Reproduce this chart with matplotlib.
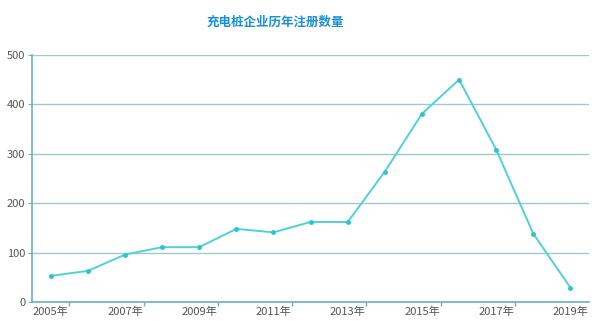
import matplotlib
matplotlib.use("Agg")
import matplotlib.pyplot as plt

plt.rcParams['font.family'] = ['Noto Sans CJK SC', 'DejaVu Sans']

years = ["2005年", "2006年", "2007年", "2008年", "2009年", "2010年", "2011年", "2012年",
         "2013年", "2014年", "2015年", "2016年", "2017年", "2018年", "2019年"]
counts = [53, 63, 96, 111, 111, 148, 141, 162, 162, 264, 381, 450, 308, 138, 29]

line_color = "#4fd2d6"
grid_color = "#9fc9cd"
axis_color = "#6fb0b8"

fig = plt.figure(figsize=(5.95, 3.21), dpi=100)
ax = fig.add_axes([0.054, 0.059, 0.936, 0.77])

x = list(range(len(years)))
ax.plot(x, counts, color=line_color, linewidth=1.4, marker="o", markersize=2.5,
        markerfacecolor="#2ec4c9", markeredgecolor="#2ec4c9", zorder=3)

ax.set_xlim(-0.5, len(years) - 0.5)
ax.set_ylim(0, 500)
ax.set_yticks([0, 100, 200, 300, 400, 500])
ax.yaxis.grid(True, color=grid_color, linewidth=1.0)
ax.set_axisbelow(True)

# labels on every other category, ticks on band boundaries
ax.set_xticks(x[::2])
ax.set_xticklabels(years[::2])
ax.tick_params(axis="x", length=0, pad=3, labelsize=8, labelcolor="#555555")
ax.set_xticks([i + 0.5 for i in x[:-1:2]], minor=True)
ax.tick_params(axis="x", which="minor", length=3, color=axis_color, width=1)
ax.tick_params(axis="y", length=3, color=axis_color, pad=2, labelsize=8, labelcolor="#555555")

for s in ["top", "right"]:
    ax.spines[s].set_visible(False)
for s in ["left", "bottom"]:
    ax.spines[s].set_color(axis_color)
    ax.spines[s].set_linewidth(1.2)

fig.text(0.462, 0.93, "充电桩企业历年注册数量", ha="center", va="center",
         fontsize=9, fontweight="bold", color="#1c8fd3")

fig.savefig("out.png", dpi=100)
